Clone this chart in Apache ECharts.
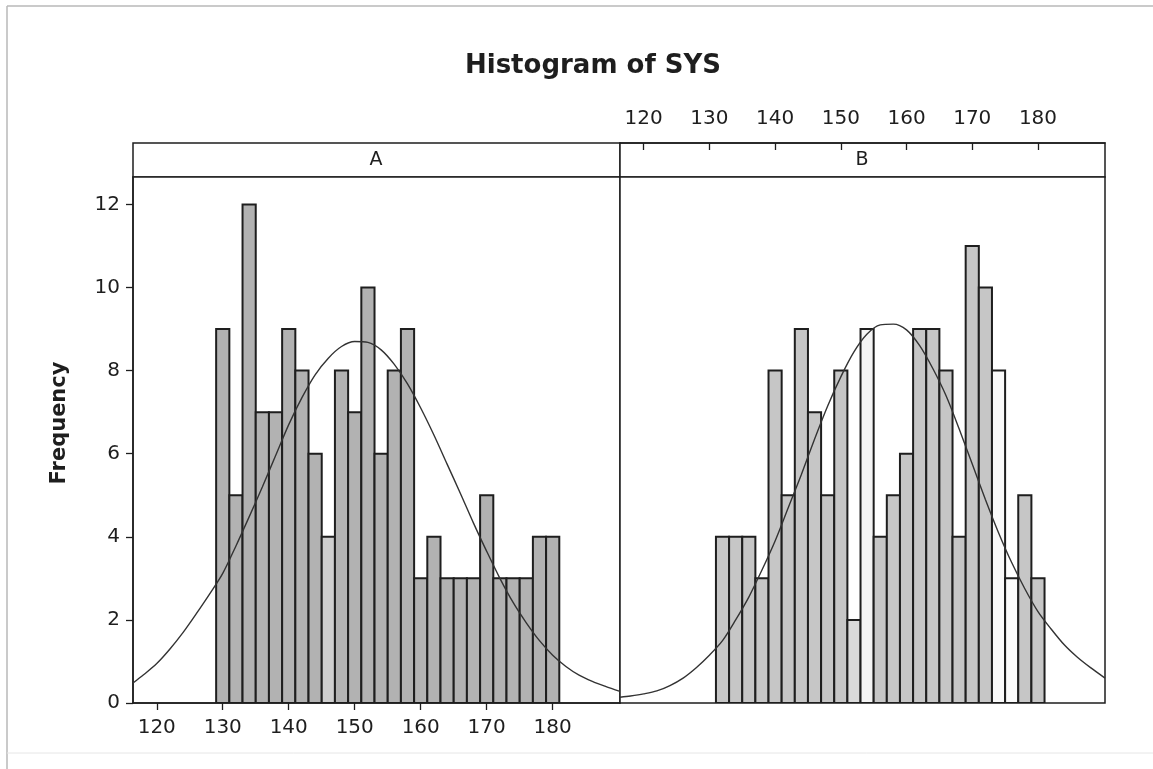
<!DOCTYPE html>
<html>
<head>
<meta charset="utf-8">
<script src="https://cdn.jsdelivr.net/npm/echarts@6/dist/echarts.min.js"></script>
<style>html,body{margin:0;padding:0;background:#fff}#c{width:1153px;height:769px}</style>
</head>
<body>
<div id="c"></div>
<script>
// ---------- data ----------
const binCentersA = [130,132,134,136,138,140,142,144,146,148,150,152,154,156,158,160,162,164,166,168,170,172,174,176,178,180];
const countsA     = [9,5,12,7,7,9,8,6,4,8,7,10,6,8,9,3,4,3,3,3,5,3,3,3,4,4];
const binCentersB = [132,134,136,138,140,142,144,146,148,150,152,154,156,158,160,162,164,166,168,170,172,174,176,178,180];
const countsB     = [4,4,4,3,8,5,9,7,5,8,2,9,4,5,6,9,9,8,4,11,10,8,3,5,3];
const curveAx = [116.4,118,120,122,124,126,128,130,132,134,136,138,140,142,144,146,148,150,152,154,156,158,160,162,164,166,168,170,172,174,176,178,180,182,184,186,188,190.2];
const curveAy = [0.48,0.68,0.95,1.3,1.7,2.15,2.62,3.12,3.78,4.48,5.2,5.95,6.7,7.35,7.9,8.3,8.58,8.7,8.68,8.5,8.15,7.68,7.1,6.45,5.75,5.05,4.33,3.65,3.0,2.42,1.93,1.5,1.15,0.88,0.67,0.52,0.4,0.28];
const curveBx = [116.4,118,120,122,124,126,128,130,132,134,136,138,140,142,144,146,148,150,152,154,156,158,160,162,164,166,168,170,172,174,176,178,180,182,184,186,188,190.2];
const curveBy = [0.14,0.17,0.22,0.29,0.42,0.6,0.85,1.15,1.5,2.0,2.55,3.2,3.9,4.7,5.5,6.35,7.15,7.85,8.45,8.88,9.1,9.12,8.98,8.6,8.05,7.4,6.6,5.75,4.9,4.1,3.38,2.75,2.2,1.78,1.4,1.1,0.85,0.6];
const xTickValues = [120,130,140,150,160,170,180];
const yTickValues = [0,2,4,6,8,10,12];
const panelLabels = ['A','B'];
const titleText = 'Histogram of SYS';
const yAxisTitle = 'Frequency';
const binWidth = 2;

// ---------- styling / layout ----------
const FONT = '"DejaVu Sans", Verdana, sans-serif';
const INK = '#1e1e1e';
const X_MIN = 116.4, X_MAX = 190.2, Y_MAX = 12.66;
const fillA = '#b2b2b2', fillB = '#c6c6c6';
const lightB = {152:'#dadada', 154:'#f4f4f4', 174:'#fafafa', 176:'#fafafa'};
const lightA = {146:'#cecece'};

function makeBarRenderer(base, light) {
  return function (params, api) {
    const x = api.value(0), y = api.value(1);
    const p0 = api.coord([x - binWidth / 2, y]);
    const p1 = api.coord([x + binWidth / 2, 0]);
    return {
      type: 'rect',
      shape: { x: p0[0], y: p0[1], width: p1[0] - p0[0], height: p1[1] - p0[1] },
      style: { fill: light[x] || base, stroke: INK, lineWidth: 2 }
    };
  };
}

const zip = (a, b) => a.map((v, i) => [v, b[i]]);

const chart = echarts.init(document.getElementById('c'), null, { renderer: 'canvas' });
chart.setOption({
  animation: false,
  backgroundColor: '#fff',
  title: {
    text: titleText, left: 588, top: 48, textAlign: 'center',
    textStyle: { fontFamily: FONT, fontSize: 26, fontWeight: 'bold', color: INK }
  },
  grid: [
    { left: 133, top: 177, width: 487, height: 526, show: true, borderColor: INK, borderWidth: 1.5, backgroundColor: '#fff' },
    { left: 620, top: 177, width: 485, height: 526, show: true, borderColor: INK, borderWidth: 1.5, backgroundColor: '#fff' }
  ],
  xAxis: [
    {
      gridIndex: 0, type: 'value', min: X_MIN, max: X_MAX, position: 'bottom',
      axisLine: { show: true, onZero: false, lineStyle: { color: INK, width: 1.5 } },
      axisTick: { show: true, customValues: xTickValues, length: 7, lineStyle: { color: INK, width: 1.3 } },
      axisLabel: { customValues: xTickValues, fontFamily: FONT, fontSize: 20, color: INK, margin: 15 },
      splitLine: { show: false }
    },
    {
      gridIndex: 1, type: 'value', min: X_MIN, max: X_MAX, position: 'top', offset: 34,
      axisLine: { show: true, onZero: false, lineStyle: { color: INK, width: 1.5 } },
      axisTick: { show: true, inside: true, customValues: xTickValues, length: 7, lineStyle: { color: INK, width: 1.3 } },
      axisLabel: { customValues: xTickValues, fontFamily: FONT, fontSize: 20, color: INK, margin: 14 },
      splitLine: { show: false }
    }
  ],
  yAxis: [
    {
      gridIndex: 0, type: 'value', min: 0, max: Y_MAX,
      axisLine: { show: true, lineStyle: { color: INK, width: 1.5 } },
      axisTick: { show: true, customValues: yTickValues, length: 7, lineStyle: { color: INK, width: 1.3 } },
      axisLabel: { customValues: yTickValues, fontFamily: FONT, fontSize: 20, color: INK, margin: 13 },
      splitLine: { show: false }
    },
    {
      gridIndex: 1, type: 'value', min: 0, max: Y_MAX,
      axisLine: { show: false }, axisTick: { show: false }, axisLabel: { show: false }, splitLine: { show: false }
    }
  ],
  graphic: [
    { type: 'line', shape: { x1: 7, y1: 6, x2: 1153, y2: 6 }, style: { stroke: '#b8b8b8', lineWidth: 1.5 }, silent: true },
    { type: 'line', shape: { x1: 7, y1: 6, x2: 7, y2: 769 }, style: { stroke: '#b8b8b8', lineWidth: 1.5 }, silent: true },
    { type: 'line', shape: { x1: 7, y1: 753, x2: 1153, y2: 753 }, style: { stroke: '#e6e6e6', lineWidth: 1 }, silent: true },
    { type: 'rect', shape: { x: 133, y: 143, width: 487, height: 34 }, style: { fill: '#fff', stroke: INK, lineWidth: 1.5 }, z: -1 },
    { type: 'rect', shape: { x: 620, y: 143, width: 485, height: 34 }, style: { fill: '#fff', stroke: INK, lineWidth: 1.5 }, z: -1 },
    { type: 'text', x: 376, y: 160, style: { text: panelLabels[0], font: '19px ' + FONT, fill: INK, textAlign: 'center', textVerticalAlign: 'middle' } },
    { type: 'text', x: 862, y: 160, style: { text: panelLabels[1], font: '19px ' + FONT, fill: INK, textAlign: 'center', textVerticalAlign: 'middle' } },
    { type: 'text', x: 60, y: 423, rotation: Math.PI / 2,
      style: { text: yAxisTitle, font: 'bold 21px ' + FONT, fill: INK, textAlign: 'center', textVerticalAlign: 'middle' } }
  ],
  series: [
    { type: 'custom', xAxisIndex: 0, yAxisIndex: 0, renderItem: makeBarRenderer(fillA, lightA), data: zip(binCentersA, countsA), clip: true, z: 2 },
    { type: 'custom', xAxisIndex: 1, yAxisIndex: 1, renderItem: makeBarRenderer(fillB, lightB), data: zip(binCentersB, countsB), clip: true, z: 2 },
    { type: 'line', xAxisIndex: 0, yAxisIndex: 0, data: zip(curveAx, curveAy), smooth: 0.3, showSymbol: false, clip: true,
      lineStyle: { color: '#333', width: 1.4 }, z: 3 },
    { type: 'line', xAxisIndex: 1, yAxisIndex: 1, data: zip(curveBx, curveBy), smooth: 0.3, showSymbol: false, clip: true,
      lineStyle: { color: '#333', width: 1.4 }, z: 3 }
  ]
});
</script>
</body>
</html>
